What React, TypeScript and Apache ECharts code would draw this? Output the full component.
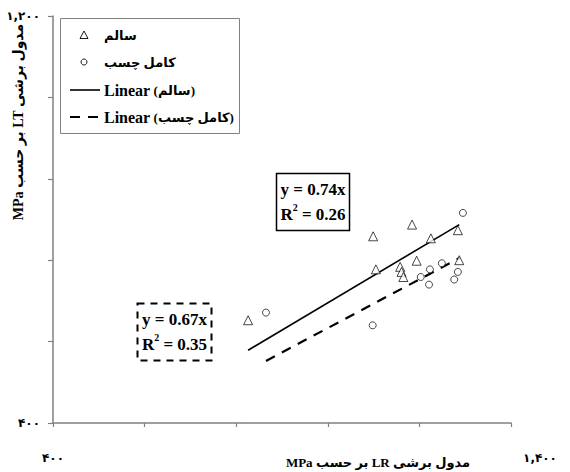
import React, { useEffect, useRef } from "react";
import * as echarts from "echarts";

// سالم (intact) – triangles
const intactX = [826, 1099, 1184, 1225, 1284, 1105, 1158, 1161, 1165, 1194, 1287];
const intactY = [602, 767, 790, 763, 779, 702, 707, 697, 687, 719, 720];
// کامل چسب (fully glued) – circles
const gluedX = [865, 1098, 1203, 1221, 1223, 1249, 1276, 1284, 1295];
const gluedY = [617, 592, 687, 672, 702, 714, 682, 697, 813];
// trend lines (as drawn)
const intactTrendX = [826, 1287];
const intactTrendY = [543, 790];
const gluedTrendX = [865, 1289];
const gluedTrendY = [522, 725];

const xTickLabels: Record<number, string> = { 400: "۴۰۰", 1400: "۱,۴۰۰" };
const yTickLabels: Record<number, string> = { 400: "۴۰۰", 1200: "۱,۲۰۰" };

const seriesNames = ["سالم", "کامل چسب", "Linear (سالم)", "Linear (کامل چسب)"];
const eq1 = ["y = 0.74x", "0.26"];
const eq2 = ["y = 0.67x", "0.35"];
const xName = "\u202Bمدول برشی LR بر حسب MPa\u202C";
const yName = "\u202Bمدول برشی LT بر حسب MPa\u202C";

const FONT = '"Liberation Serif", "Times New Roman", "DejaVu Sans", serif';
const DIGIT_FONT = '"DejaVu Sans", "Noto Sans", sans-serif';
const AXIS_COLOR = "#808080";

const zip = (a: number[], b: number[]) => a.map((v, i) => [v, b[i]]);

export default function App() {
  const ref = useRef<HTMLDivElement>(null);
  useEffect(() => {
    document.body.style.margin = "0";
    if (!ref.current) return;
    const chart = echarts.init(ref.current, undefined, { renderer: "svg" });
    const eqText = (e: string[]) => `{a|${e[0]}}\n{a|R}{s|2}{a| = ${e[1]}}`;
    const eqRich = {
      a: { fontFamily: FONT, fontWeight: "bold", fontSize: 17, lineHeight: 25, fill: "#000" },
      s: { fontFamily: FONT, fontWeight: "bold", fontSize: 10, lineHeight: 25, verticalAlign: "top" },
    };
    const legendRich = {
      l: { fontFamily: FONT, fontWeight: "bold", fontSize: 16, fill: "#000" },
      p: { fontFamily: FONT, fontWeight: "bold", fontSize: 13, fill: "#000" },
    };
    const legendLabel = (name: string) =>
      name.startsWith("Linear ") ? `{l|Linear} {p|${name.slice(7)}}` : `{p|${name}}`;
    const legendItem = (y: number, name: string) => ({
      type: "text",
      x: 104,
      y,
      style: { text: legendLabel(name), rich: legendRich, verticalAlign: "middle", align: "left" },
      z: 11,
    });
    chart.setOption({
      animation: false,
      grid: { left: 53, right: 59, top: 16, bottom: 49 },
      xAxis: {
        type: "value",
        min: 400,
        max: 1400,
        interval: 200,
        splitLine: { show: false },
        axisLine: { lineStyle: { color: AXIS_COLOR, width: 1.5 } },
        axisTick: { show: true, length: 4, lineStyle: { color: AXIS_COLOR, width: 1.2 } },
        axisLabel: {
          margin: 29,
          fontFamily: DIGIT_FONT,
          fontWeight: "bold",
          fontSize: 12,
          color: "#000",
          showMinLabel: true,
          showMaxLabel: true,
          formatter: (v: number) =>
            v === 1400 ? `{r|${xTickLabels[v]}}` : xTickLabels[v] ?? "",
          rich: {
            r: { fontFamily: DIGIT_FONT, fontWeight: "bold", fontSize: 12, padding: [0, 0, 0, 58] },
          },
        },
      },
      yAxis: {
        type: "value",
        min: 400,
        max: 1200,
        interval: 160,
        splitLine: { show: false },
        axisLine: { show: true, lineStyle: { color: AXIS_COLOR, width: 1.5 } },
        axisTick: { show: true, length: 5, lineStyle: { color: AXIS_COLOR, width: 1.2 } },
        axisLabel: {
          margin: 13,
          fontFamily: DIGIT_FONT,
          fontWeight: "bold",
          fontSize: 12,
          color: "#000",
          formatter: (v: number) => yTickLabels[v] ?? "",
        },
      },
      series: [
        {
          name: seriesNames[0],
          type: "scatter",
          symbol: "triangle",
          symbolSize: 9,
          itemStyle: { color: "#fff", borderColor: "#000", borderWidth: 0.9 },
          data: zip(intactX, intactY),
          z: 3,
        },
        {
          name: seriesNames[1],
          type: "scatter",
          symbol: "circle",
          symbolSize: 7,
          itemStyle: { color: "#fff", borderColor: "#000", borderWidth: 0.9 },
          data: zip(gluedX, gluedY),
          z: 3,
        },
        {
          name: seriesNames[2],
          type: "line",
          symbol: "none",
          lineStyle: { color: "#000", width: 1.6 },
          data: zip(intactTrendX, intactTrendY),
          z: 2,
        },
        {
          name: seriesNames[3],
          type: "line",
          symbol: "none",
          lineStyle: { color: "#000", width: 2.2, type: [10, 8] },
          data: zip(gluedTrendX, gluedTrendY),
          z: 2,
        },
      ],
      graphic: [
        // legend
        {
          type: "rect",
          shape: { x: 60.5, y: 18.5, width: 179, height: 115 },
          style: { fill: "#fff", stroke: AXIS_COLOR, lineWidth: 1 },
          z: 10,
        },
        {
          type: "polygon",
          shape: { points: [[84, 31], [80, 38.5], [88, 38.5]] },
          style: { fill: "#fff", stroke: "#000", lineWidth: 0.9 },
          z: 11,
        },
        legendItem(35, seriesNames[0]),
        {
          type: "circle",
          shape: { cx: 84, cy: 62, r: 3 },
          style: { fill: "#fff", stroke: "#000", lineWidth: 0.9 },
          z: 11,
        },
        legendItem(62, seriesNames[1]),
        {
          type: "line",
          shape: { x1: 70, y1: 90, x2: 100, y2: 90 },
          style: { stroke: "#000", lineWidth: 1.6 },
          z: 11,
        },
        legendItem(90, seriesNames[2]),
        {
          type: "line",
          shape: { x1: 70, y1: 117, x2: 100, y2: 117 },
          style: { stroke: "#000", lineWidth: 2.2, lineDash: [10, 8] },
          z: 11,
        },
        legendItem(117, seriesNames[3]),
        // equation boxes
        {
          type: "rect",
          shape: { x: 276.5, y: 173.5, width: 73, height: 57 },
          style: { fill: "#fff", stroke: "#000", lineWidth: 1.5 },
          z: 10,
        },
        {
          type: "text",
          x: 313,
          y: 202,
          style: { text: eqText(eq1), rich: eqRich, align: "center", verticalAlign: "middle" },
          z: 11,
        },
        {
          type: "rect",
          shape: { x: 137.5, y: 303.5, width: 74, height: 57 },
          style: { fill: "#fff", stroke: "#000", lineWidth: 2, lineDash: [7, 6] },
          z: 10,
        },
        {
          type: "text",
          x: 174.5,
          y: 332,
          style: { text: eqText(eq2), rich: eqRich, align: "center", verticalAlign: "middle" },
          z: 11,
        },
        // axis names
        {
          type: "text",
          x: 378,
          y: 462,
          style: {
            text: xName,
            fontFamily: FONT,
            fontWeight: "bold",
            fontSize: 13,
            fill: "#000",
            align: "center",
            verticalAlign: "middle",
          },
          z: 11,
        },
        {
          type: "text",
          x: 18,
          y: 122,
          rotation: Math.PI / 2,
          style: {
            text: yName,
            fontFamily: FONT,
            fontWeight: "bold",
            fontSize: 14,
            fill: "#000",
            align: "center",
            verticalAlign: "middle",
          },
          z: 11,
        },
      ],
    });
    return () => chart.dispose();
  }, []);
  return <div ref={ref} style={{ width: 570, height: 472 }} />;
}
